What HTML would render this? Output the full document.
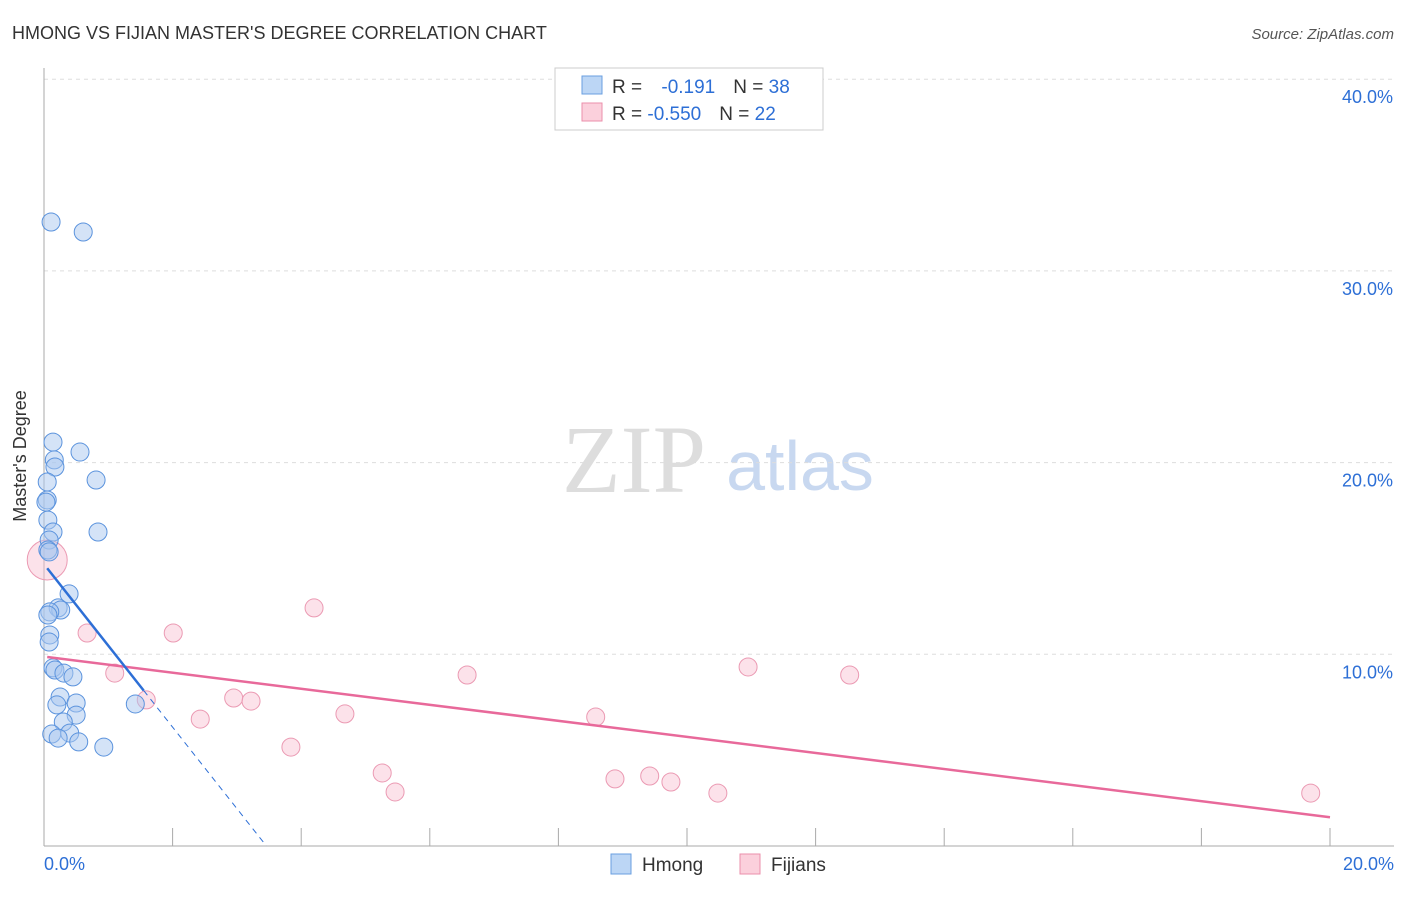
<!DOCTYPE html>
<html><head><meta charset="utf-8"><style>
body{margin:0;background:#fff;font-family:"Liberation Sans",sans-serif;}
</style></head><body>
<svg width="1406" height="892" xmlns="http://www.w3.org/2000/svg" font-family="Liberation Sans, sans-serif">
<text x="12" y="39" font-size="18" fill="#333">HMONG VS FIJIAN MASTER'S DEGREE CORRELATION CHART</text>
<text x="1394" y="39" font-size="15" fill="#555" font-style="italic" text-anchor="end">Source: ZipAtlas.com</text>
<text x="634" y="492" font-size="96" fill="#ddd" font-family="Liberation Serif, serif" text-anchor="middle">ZIP</text>
<text x="800" y="490" font-size="70" fill="#c8d8f0" text-anchor="middle">atlas</text>
<g id="grid"></g>
<line x1="44" y1="68" x2="44" y2="846" stroke="#aaa"/>
<line x1="44" y1="846" x2="1394" y2="846" stroke="#aaa"/>
<g id="ticks"></g>
<g id="marks"></g>
<text x="26" y="456" font-size="18" fill="#333" text-anchor="middle" transform="rotate(-90 26 456)">Master's Degree</text>
<g>
<rect x="555" y="68" width="268" height="62" fill="#fff" stroke="#ccc"/>
<rect x="582" y="76" width="20" height="18" fill="#bcd6f5" stroke="#6a9fe0"/>
<rect x="582" y="103" width="20" height="18" fill="#fbd0dc" stroke="#eb8fab"/>
<text x="612" y="93" font-size="19" fill="#333">R = <tspan fill="#2d6fd6" dx="14">-0.191</tspan><tspan dx="18" fill="#333">N = </tspan><tspan fill="#2d6fd6">38</tspan></text>
<text x="612" y="120" font-size="19" fill="#333">R = <tspan fill="#2d6fd6">-0.550</tspan><tspan dx="18" fill="#333">N = </tspan><tspan fill="#2d6fd6">22</tspan></text>
</g>
<g>
<rect x="611" y="854" width="20" height="20" fill="#bcd6f5" stroke="#6a9fe0"/>
<text x="642" y="871" font-size="19" fill="#333">Hmong</text>
<rect x="740" y="854" width="20" height="20" fill="#fbd0dc" stroke="#eb8fab"/>
<text x="771" y="871" font-size="19" fill="#333">Fijians</text>
</g>
</svg>
<script>
const hmongX=[0.11,0.61,0.14,0.56,0.16,0.17,0.81,0.05,0.05,0.03,0.06,0.14,0.84,0.08,0.06,0.39,0.22,0.26,0.09,0.06,0.09,0.08,0.14,0.17,0.31,0.45,0.25,0.50,0.20,0.50,0.30,0.40,0.12,0.22,0.54,0.93,1.42,0.08];
const hmongY=[32.55,32.03,21.07,20.55,20.14,19.77,19.09,18.99,18.05,17.94,17.0,16.38,16.38,15.96,15.44,13.15,12.42,12.31,12.21,12.05,11.01,10.64,9.29,9.18,9.02,8.82,7.77,7.46,7.36,6.83,6.47,5.89,5.84,5.63,5.43,5.16,7.41,15.34];
const fijiX=[0.05,0.67,2.01,4.20,1.10,1.59,2.43,2.95,3.22,3.84,4.68,5.26,5.46,6.58,8.58,8.88,9.42,9.75,10.48,10.95,12.53,19.70];
const fijiY=[14.92,11.11,11.11,12.42,9.02,7.62,6.62,7.72,7.56,5.16,6.89,3.81,2.82,8.92,6.73,3.50,3.65,3.34,2.76,9.34,8.92,2.76];
const hmongTrend=[14.7,-4.25];
const fijiTrend=[9.88,-0.419];
const yTicks=[10,20,30,40];
const xTickVals=[2,4,6,8,10,12,14,16,18,20];
const X=v=>44+v/20*1286, Y=v=>846-v*19.17;
const NS='http://www.w3.org/2000/svg';
function mk(parent,tag,attrs){const e=document.createElementNS(NS,tag);for(const k in attrs)e.setAttribute(k,attrs[k]);document.getElementById(parent).appendChild(e);return e;}
yTicks.forEach(t=>{
 const l=mk('grid','line',{x1:44,x2:1394,y1:Y(t),y2:Y(t),stroke:'#ddd','stroke-dasharray':'4,4'});
 
 
 const tx=mk('grid','text',{x:1393,y:Y(t)+24,'font-size':18,fill:'#2d6fd6','text-anchor':'end'});
 tx.textContent=t.toFixed(1)+'%';
 
 
});
xTickVals.forEach(t=>{
 const l=mk('ticks','line',{x1:X(t),x2:X(t),y1:828,y2:846,stroke:'#aaa'});
 
 
});
[[0,'0.0%',44,'start'],[20,'20.0%',1394,'end']].forEach(a=>{
 const tx=mk('ticks','text',{x:a[2],y:870,'font-size':18,fill:'#2d6fd6','text-anchor':a[3]});
 tx.textContent=a[1];
 
 
});
fijiX.forEach((x,i)=>{
 const c=mk('marks','circle',{cx:X(x),cy:Y(fijiY[i]),r:i==0?20:9,fill:'rgba(248,190,208,0.45)',stroke:'#eb9ab3','stroke-width':1});
 
 
});
hmongX.forEach((x,i)=>{
 const c=mk('marks','circle',{cx:X(x),cy:Y(hmongY[i]),r:9,fill:'rgba(170,200,240,0.5)',stroke:'#5b93dd','stroke-width':1});
 
 
});
const fy=x=>fijiTrend[0]+fijiTrend[1]*x, hy=x=>hmongTrend[0]+hmongTrend[1]*x;
let l=mk('marks','line',{x1:X(0.05),y1:Y(fy(0.05)),x2:X(20),y2:Y(fy(20)),stroke:'#e8699a','stroke-width':2.5});


l=mk('marks','line',{x1:X(0.05),y1:Y(hy(0.05)),x2:X(1.55),y2:Y(hy(1.55)),stroke:'#2d6fd6','stroke-width':2.5});


const xe=-hmongTrend[0]/hmongTrend[1];
l=mk('marks','line',{x1:X(1.55),y1:Y(hy(1.55)),x2:X(xe),y2:Y(0),stroke:'#2d6fd6','stroke-width':1,'stroke-dasharray':'6,5'});


</script>
</body></html>
